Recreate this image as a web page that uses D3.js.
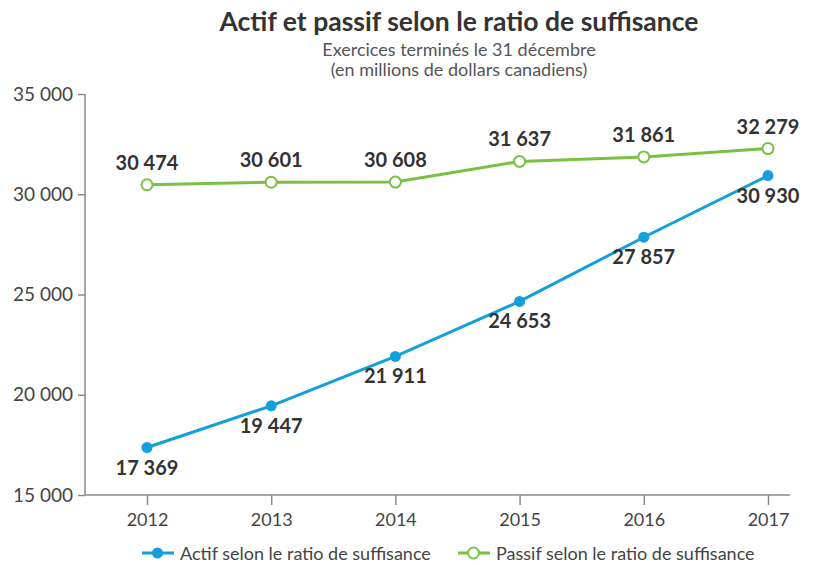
<!DOCTYPE html>
<html><head><meta charset="utf-8">
<script src="https://cdn.jsdelivr.net/npm/d3@7"></script>
<style>body{margin:0;background:#fff;}svg{display:block;}</style>
</head><body>
<svg id="c" width="817" height="565"></svg>
<script>
const years = ["2012","2013","2014","2015","2016","2017"];
const actif = [17369, 19447, 21911, 24653, 27857, 30930];
const passif = [30474, 30601, 30608, 31637, 31861, 32279];
const yTicks = [15000, 20000, 25000, 30000, 35000];
const seriesNames = ["Actif selon le ratio de suffisance", "Passif selon le ratio de suffisance"];
const title = "Actif et passif selon le ratio de suffisance";
const subtitle = ["Exercices terminés le 31 décembre", "(en millions de dollars canadiens)"];

const blue = "#139fdb", green = "#7ac143", axisCol = "#8a8a8a", textCol = "#333";
const font = "Lato, 'Open Sans', sans-serif";
const svg = d3.select("#c");
const fmt = v => d3.format(",")(v).replace(/,/g, " ");

const x = d3.scalePoint().domain(years).range([147, 768]);
const y = d3.scaleLinear().domain([15000, 35000]).range([495, 94]);

svg.append("text").attr("x", 459).attr("y", 31).attr("text-anchor", "middle")
  .attr("font-family", font).attr("font-weight", "bold").attr("font-size", 26.5).attr("fill", "#333").text(title);
subtitle.forEach((s, i) => svg.append("text").attr("x", 459).attr("y", 56 + i * 20).attr("text-anchor", "middle")
  .attr("font-family", font).attr("font-size", 18).attr("fill", "#555").text(s));

// y axis
const ya = svg.append("g").attr("transform", "translate(85,0)")
  .call(d3.axisLeft(y).tickValues(yTicks).tickFormat(fmt).tickSize(7).tickPadding(5));
ya.select(".domain").attr("stroke", axisCol).attr("stroke-width", 1.5).attr("d", "M0,94V495");
ya.selectAll(".tick line").attr("stroke", axisCol).attr("stroke-width", 1.5);
ya.selectAll(".tick text").attr("font-family", font).attr("font-size", 19).attr("fill", "#444");

// x axis
const xa = svg.append("g").attr("transform", "translate(0,495)")
  .call(d3.axisBottom(x).tickSize(10).tickPadding(8));
xa.select(".domain").attr("stroke", axisCol).attr("stroke-width", 1.5).attr("d", "M85,0H790");
xa.selectAll(".tick line").attr("stroke", axisCol).attr("stroke-width", 1.5);
xa.selectAll(".tick text").attr("font-family", font).attr("font-size", 18).attr("fill", "#444");

const line = d3.line().x((d, i) => x(years[i])).y(d => y(d));

// passif (green)
svg.append("path").datum(passif).attr("d", line).attr("fill", "none").attr("stroke", green).attr("stroke-width", 3);
svg.selectAll(".pg").data(passif).join("circle").attr("cx", (d, i) => x(years[i])).attr("cy", d => y(d))
  .attr("r", 5.5).attr("fill", "#fff").attr("stroke", green).attr("stroke-width", 2);
svg.selectAll(".pl").data(passif).join("text").attr("x", (d, i) => x(years[i])).attr("y", d => y(d) - 15)
  .attr("text-anchor", "middle").attr("font-family", font).attr("font-weight", "bold").attr("font-size", 20)
  .attr("fill", textCol).text(fmt);

// actif (blue)
svg.append("path").datum(actif).attr("d", line).attr("fill", "none").attr("stroke", blue).attr("stroke-width", 3);
svg.selectAll(".ab").data(actif).join("circle").attr("cx", (d, i) => x(years[i])).attr("cy", d => y(d))
  .attr("r", 5.5).attr("fill", blue);
svg.selectAll(".al").data(actif).join("text").attr("x", (d, i) => x(years[i])).attr("y", d => y(d) + 27)
  .attr("text-anchor", "middle").attr("font-family", font).attr("font-weight", "bold").attr("font-size", 20)
  .attr("fill", textCol).text(fmt);

// legend
const leg = [{x: 142, c: blue, open: false}, {x: 458, c: green, open: true}];
leg.forEach((l, i) => {
  const g = svg.append("g").attr("transform", `translate(${l.x},553)`);
  g.append("line").attr("x1", 0).attr("x2", 32).attr("stroke", l.c).attr("stroke-width", 3);
  g.append("circle").attr("cx", 15.5).attr("r", 5.5).attr("fill", l.open ? "#fff" : l.c)
    .attr("stroke", l.c).attr("stroke-width", l.open ? 2 : 0);
  g.append("text").attr("x", 38).attr("y", 6.5).attr("font-family", font).attr("font-size", 18)
    .attr("fill", "#444").text(seriesNames[i]);
});
</script>
</body></html>
